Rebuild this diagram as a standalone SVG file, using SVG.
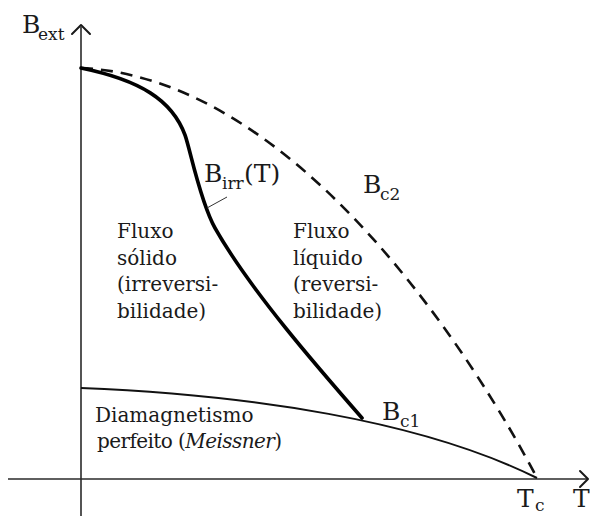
<svg xmlns="http://www.w3.org/2000/svg" width="590" height="516" viewBox="0 0 590 516">
<style>
.ax{fill:none;stroke:#2a2a2a;stroke-width:1.6}
.arr{fill:none;stroke:#1a1a1a;stroke-width:2;stroke-linecap:round;stroke-linejoin:round}
.t{font-family:"DejaVu Serif","Liberation Serif",serif;fill:#1a1a1a}
.r{font-size:20px}
.l{font-size:25px}
.s{font-size:17px}
</style>
<rect width="590" height="516" fill="#fff"/>
<g id="axes">
<line class="ax" x1="81" y1="27" x2="81" y2="516"/>
<line class="ax" x1="8" y1="479" x2="587" y2="479"/>
<polyline class="arr" points="72,34 81,25 90,34"/>
<polyline class="arr" points="580,471 588,479 580,487"/>
</g>
<g id="connectors">
<path id="Bc2" d="M81,68 C300,78 478,365 537,478" fill="none" stroke="#111" stroke-width="2.6" stroke-dasharray="12,8"/>
<path id="Bc1" d="M81,388 C250,395 420,420 537,478" fill="none" stroke="#111" stroke-width="2"/>
<path id="Birr" d="M81,68 C140,80 172,100 185,135 C190,148.5 200,201.5 215,228 C250,290 320,370 362,418" fill="none" stroke="#000" stroke-width="3.6" stroke-linecap="round"/>
<line id="leader" x1="207" y1="208" x2="227" y2="197" stroke="#333" stroke-width="1"/>
</g>
<g id="label-Bext"><text class="t l" x="22" y="33">B</text><text class="t s" x="38" y="40">ext</text></g>
<g id="label-Birr"><text class="t l" x="204" y="182">B</text><text class="t s" x="222" y="189">irr</text><text class="t l" x="244" y="182">(T)</text></g>
<g id="label-Bc2"><text class="t l" x="363" y="193">B</text><text class="t s" x="380" y="200">c2</text></g>
<g id="label-Bc1"><text class="t l" x="382" y="420">B</text><text class="t s" x="400" y="427">c1</text></g>
<g id="label-Tc"><text class="t l" x="517" y="507">T</text><text class="t s" x="535" y="511">c</text></g>
<g id="label-T"><text class="t l" x="573" y="507">T</text></g>
<g id="region-solid">
<text class="t r" x="117" y="238">Fluxo</text>
<text class="t r" x="117" y="265">sólido</text>
<text class="t r" x="117" y="291">(irreversi-</text>
<text class="t r" x="117" y="318">bilidade)</text>
</g>
<g id="region-liquid">
<text class="t r" x="293" y="238">Fluxo</text>
<text class="t r" x="293" y="265">líquido</text>
<text class="t r" x="293" y="291">(reversi-</text>
<text class="t r" x="293" y="318">bilidade)</text>
</g>
<g id="region-meissner">
<text class="t r" x="95" y="422">Diamagnetismo</text>
<text class="t r" x="97" y="448" textLength="185">perfeito (<tspan font-style="italic">Meissner</tspan>)</text>
</g>
</svg>
